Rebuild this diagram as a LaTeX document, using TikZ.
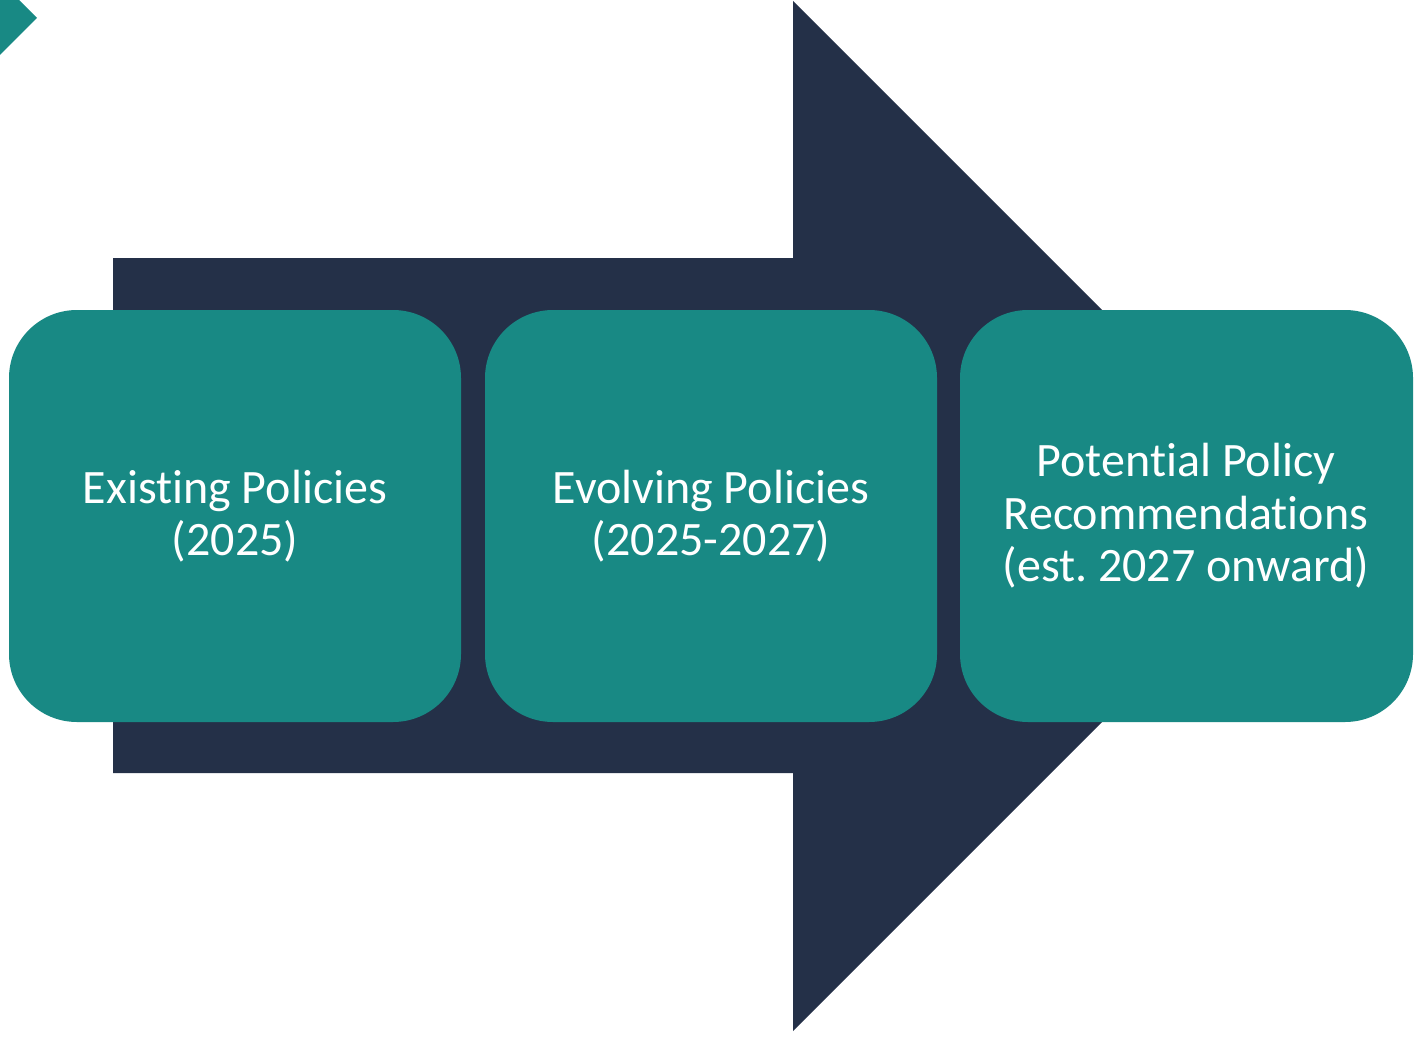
\documentclass[tikz,border=0pt]{standalone}
\usepackage{fontspec}
\setmainfont{Carlito}[Ligatures=NoCommon,Contextuals=NoAlternate]
\frenchspacing
\definecolor{tealbox}{RGB}{24,137,132}
\definecolor{navy}{RGB}{36,48,72}
\newcommand{\nolig}{\kern0pt{}}
\begin{document}
\begin{tikzpicture}[x=1pt,y=-1pt,
  stage/.style={fill=tealbox, rounded corners=68pt, draw=none},
  stagetext/.style={text=white, align=center, font=\fontsize{48}{52.5}\selectfont}]
\useasboundingbox (0,0) rectangle (1421,1038);
\fill[white] (0,0) rectangle (1421,1038);
% corner diamond
\fill[tealbox] (0,-19) -- (37,18) -- (0,55) -- (-37,18) -- cycle;
% big arrow
\fill[navy] (113,258) -- (793,258) -- (793,1) -- (1308,516) -- (793,1031) -- (793,773) -- (113,773) -- cycle;
% boxes
\fill[stage] (9,310) rectangle (461,722);
\fill[stage] (485,310) rectangle (937,722);
\fill[stage] (960,310) rectangle (1413,722);
\node[stagetext] (s1) at (235,516) {Exist\nolig ing Policies\\(2025)};
\node[stagetext] (s2) at (711,516) {Evolving Policies\\(2025-2027)};
\node[stagetext] (s3) at (1186,516) {Potent\nolig ial Policy\\Recommendat\nolig ions\\(est. 2027 onward)};
\end{tikzpicture}
\end{document}
